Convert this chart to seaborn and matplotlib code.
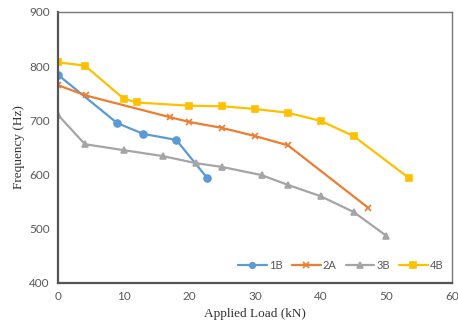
import pandas as pd
import matplotlib
matplotlib.use("Agg")
import matplotlib.pyplot as plt
import seaborn as sns

# values
load_1b = [0, 9, 13, 18, 22.7]
freq_1b = [784, 695, 675, 664, 594]

load_2a = [0, 4.2, 17, 20, 25, 30, 35, 47.2]
freq_2a = [765, 746, 706, 697, 686, 671, 654, 539]

load_3b = [0, 4.1, 10, 16, 21, 25, 31, 35, 40, 45, 50]
freq_3b = [710, 656, 645, 634, 621, 614, 599, 581, 560, 531, 487]

load_4b = [0, 4.1, 10, 12, 20, 25, 30, 35, 40, 45, 53.4]
freq_4b = [807, 801, 740, 733, 727, 726, 721, 714, 699, 671, 594]

series = ["1B", "2A", "3B", "4B"]
colors = ["#5B9BD5", "#ED7D31", "#A5A5A5", "#FFC000"]
markers = ["o", "x", "^", "s"]

sns.set_style("white")

fig = plt.figure(figsize=(4.58, 3.23), dpi=100)
ax = fig.add_axes([0.1266, 0.124, 0.8604, 0.839])

for name, x, y, c, m in zip(series, [load_1b, load_2a, load_3b, load_4b],
                            [freq_1b, freq_2a, freq_3b, freq_4b], colors, markers):
    d = pd.DataFrame({"Load": x, "Freq": y})
    sns.lineplot(data=d, x="Load", y="Freq", color=c, marker=m, sort=False,
                 linewidth=1.6, markersize=5, markeredgewidth=1.2,
                 markeredgecolor=c, label=name, ax=ax)

ax.set_xlim(0, 60)
ax.set_ylim(400, 900)
ax.set_xticks(range(0, 61, 10))
ax.set_yticks(range(400, 901, 100))
ax.tick_params(axis="both", length=0, labelsize=8.5, labelcolor="#595959", pad=6)
for lab in ax.get_xticklabels() + ax.get_yticklabels():
    lab.set_family("Lato")

ax.set_xlabel("Applied Load (kN)", family="Liberation Serif", fontsize=9.5,
              color="#333333", labelpad=4)
ax.set_ylabel("Frequency (Hz)", family="Liberation Serif", fontsize=9.5,
              color="#333333", labelpad=3)

for side in ["left", "bottom"]:
    ax.spines[side].set_color("#555555")
    ax.spines[side].set_linewidth(1.6)
for side in ["top", "right"]:
    ax.spines[side].set_color("#777777")
    ax.spines[side].set_linewidth(1.0)

leg = ax.legend(loc="center", bbox_to_anchor=(0.718, 0.066),
                ncol=4, frameon=False, handlelength=2.6, markerscale=0.8,
                columnspacing=0.8, handletextpad=0.2, borderpad=0.2,
                labelcolor="#595959", prop={"family": "Lato", "size": 8})

fig.savefig("out.png", dpi=100)
